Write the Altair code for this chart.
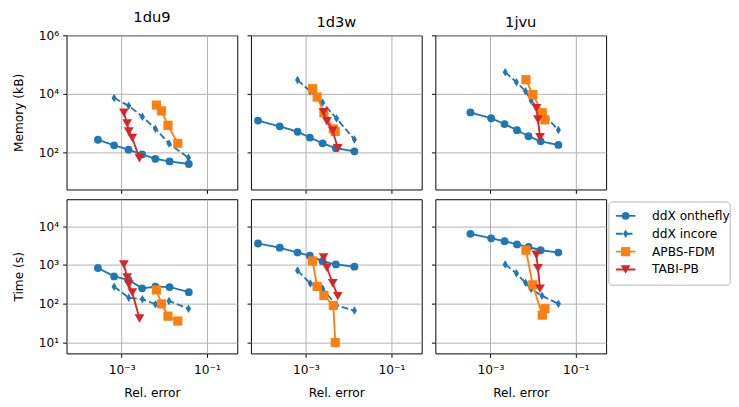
import altair as alt
import pandas as pd

proteins = ["1du9", "1d3w", "1jvu"]
methods = ["ddX onthefly", "ddX incore", "APBS-FDM", "TABI-PB"]

# ---- 1du9 ----
du9_onthefly_err = [2.79e-4, 6.68e-4, 1.45e-3, 3.02e-3, 6.17e-3, 1.33e-2, 3.75e-2]
du9_onthefly_mem = [269, 174, 123, 85, 60, 49, 40]
du9_onthefly_time = [841, 511, 414, 251, 277, 271, 200]
du9_incore_err = [6.68e-4, 1.47e-3, 3.07e-3, 6.17e-3, 1.29e-2, 3.69e-2]
du9_incore_mem = [7200, 3890, 1660, 646, 200, 65]
du9_incore_time = [277, 144, 131, 98, 119, 75]
du9_apbs_err = [6.52e-3, 8.61e-3, 1.22e-2, 2.07e-2]
du9_apbs_mem = [4120, 2620, 838, 203]
du9_apbs_time = [228, 100, 48, 36]
du9_tabi_err = [1.13e-3, 1.35e-3, 1.47e-3, 1.78e-3, 2.62e-3]
du9_tabi_mem = [2240, 977, 513, 309, 63]
du9_tabi_time = [1040, 482, 316, 196, 42]

# ---- 1d3w ----
d3w_onthefly_err = [7.5e-5, 2.42e-4, 6.34e-4, 1.23e-3, 2.44e-3, 5.01e-3, 1.36e-2]
d3w_onthefly_mem = [1220, 776, 505, 320, 203, 139, 108]
d3w_onthefly_time = [3610, 2820, 2110, 1750, 1260, 1040, 908]
d3w_incore_err = [6.34e-4, 1.26e-3, 2.44e-3, 5.19e-3, 1.36e-2]
d3w_incore_mem = [29500, 12200, 5050, 1430, 275]
d3w_incore_time = [721, 335, 247, 91, 67]
d3w_apbs_err = [1.42e-3, 1.82e-3, 2.62e-3, 4.36e-3, 4.84e-3]
d3w_apbs_mem = [15000, 7760, 2310, 631, 518]
d3w_apbs_time = [1280, 282, 165, 91, 10]
d3w_tabi_err = [2.58e-3, 3.08e-3, 4.23e-3, 5.55e-3]
d3w_tabi_mem = [2370, 1160, 545, 139]
d3w_tabi_time = [1580, 857, 341, 158]

# ---- 1jvu ----
jvu_onthefly_err = [3.40e-4, 1.04e-3, 2.14e-3, 4.20e-3, 7.80e-3, 1.50e-2, 3.91e-2]
jvu_onthefly_mem = [2310, 1460, 927, 573, 354, 237, 179]
jvu_onthefly_time = [6430, 4920, 4140, 3410, 2930, 2420, 2110]
jvu_incore_err = [2.22e-3, 4.06e-3, 6.65e-3, 8.99e-3, 1.61e-2, 3.91e-2]
jvu_incore_mem = [54500, 25100, 12300, 5890, 2340, 575]
jvu_incore_time = [1040, 619, 348, 242, 161, 100]
jvu_apbs_err = [6.78e-3, 9.82e-3, 1.64e-2, 1.89e-2]
jvu_apbs_mem = [30500, 9500, 2250, 1290]
jvu_apbs_time = [2420, 310, 51, 75]
jvu_tabi_err = [1.19e-2, 1.30e-2, 1.45e-2]
jvu_tabi_mem = [3200, 1320, 328]
jvu_tabi_time = [1850, 826, 247]

series = {
    ("1du9", "ddX onthefly"): (du9_onthefly_err, du9_onthefly_mem, du9_onthefly_time),
    ("1du9", "ddX incore"): (du9_incore_err, du9_incore_mem, du9_incore_time),
    ("1du9", "APBS-FDM"): (du9_apbs_err, du9_apbs_mem, du9_apbs_time),
    ("1du9", "TABI-PB"): (du9_tabi_err, du9_tabi_mem, du9_tabi_time),
    ("1d3w", "ddX onthefly"): (d3w_onthefly_err, d3w_onthefly_mem, d3w_onthefly_time),
    ("1d3w", "ddX incore"): (d3w_incore_err, d3w_incore_mem, d3w_incore_time),
    ("1d3w", "APBS-FDM"): (d3w_apbs_err, d3w_apbs_mem, d3w_apbs_time),
    ("1d3w", "TABI-PB"): (d3w_tabi_err, d3w_tabi_mem, d3w_tabi_time),
    ("1jvu", "ddX onthefly"): (jvu_onthefly_err, jvu_onthefly_mem, jvu_onthefly_time),
    ("1jvu", "ddX incore"): (jvu_incore_err, jvu_incore_mem, jvu_incore_time),
    ("1jvu", "APBS-FDM"): (jvu_apbs_err, jvu_apbs_mem, jvu_apbs_time),
    ("1jvu", "TABI-PB"): (jvu_tabi_err, jvu_tabi_mem, jvu_tabi_time),
}

rows = []
for (prot, meth), (errs, mems, times) in series.items():
    for i, (e, m, t) in enumerate(zip(errs, mems, times)):
        rows.append({"protein": prot, "method": meth, "idx": i, "err": e, "mem": m, "time": t})
df = pd.DataFrame(rows)

# ---- styles ----
colors = ["#1f77b4", "#1f77b4", "#ff7f0e", "#d62728"]
shapes = ["circle", "M0,-1L0.6,0L0,1L-0.6,0Z", "square", "triangle-down"]
sizes = [64, 100, 50, 62]
dashes = [[1, 0], [7, 3], [1, 0], [1, 0]]

color_scale = alt.Scale(domain=methods, range=colors)
shape_scale = alt.Scale(domain=methods, range=shapes)
size_scale = alt.Scale(domain=methods, range=sizes)
dash_scale = alt.Scale(domain=methods, range=dashes)

FONT = "DejaVu Sans"
X_DOMAIN = [10 ** -4.29, 10 ** -0.29]
MEM_DOMAIN = [10 ** 0.73, 1e6]
TIME_DOMAIN = [10 ** 0.72, 10 ** 4.7]

x_label_expr = "datum.value < 0.005 ? '10⁻³' : '10⁻¹'"
y_label_expr = ("datum.value < 50 ? '10¹' : datum.value < 500 ? '10²' : "
                "datum.value < 5000 ? '10³' : datum.value < 50000 ? '10⁴' : '10⁶'")

W, H = 175, 158


def panel(prot, metric, row, col):
    sub = df[df.protein == prot]
    x = alt.X(
        "err:Q",
        scale=alt.Scale(type="log", domain=X_DOMAIN, nice=False),
        axis=alt.Axis(values=[1e-3, 1e-1], labelExpr=x_label_expr, labels=(row == 1),
                      title="Rel. error" if row == 1 else None,
                      labelPadding=7, titlePadding=11),
    )
    if metric == "mem":
        yscale = alt.Scale(type="log", domain=MEM_DOMAIN, nice=False)
        yvals = [1e2, 1e4, 1e6]
        ytitle = "Memory (kB)"
    else:
        yscale = alt.Scale(type="log", domain=TIME_DOMAIN, nice=False)
        yvals = [1e1, 1e2, 1e3, 1e4]
        ytitle = "Time (s)"
    y = alt.Y(
        metric + ":Q",
        scale=yscale,
        axis=alt.Axis(values=yvals, labelExpr=y_label_expr, labels=(col == 0),
                      title=ytitle if col == 0 else None, titlePadding=13,
                      labelPadding=4),
    )
    layers = []
    for m in methods:
        d = sub[sub.method == m]
        base = alt.Chart(d)
        line = base.mark_line(strokeWidth=1.9).encode(
            x=x, y=y,
            color=alt.Color("method:N", scale=color_scale, legend=None),
            strokeDash=alt.StrokeDash("method:N", scale=dash_scale, legend=None),
            order=alt.Order("idx:Q"),
        )
        pts = base.mark_point(filled=True, opacity=1).encode(
            x=x, y=y,
            color=alt.Color("method:N", scale=color_scale, legend=None),
            shape=alt.Shape("method:N", scale=shape_scale, legend=None),
            size=alt.Size("method:N", scale=size_scale, legend=None),
        )
        layers += [line, pts]
    props = dict(width=W, height=H)
    if row == 0:
        props["title"] = alt.TitleParams(text=prot, fontSize=15, fontWeight="normal",
                                         font=FONT, color="black", offset=5,
                                         frame="group")
    return alt.layer(*layers).properties(**props)


# ---- custom legend (frame drawn as a rect so it can sit close to the panels) ----
leg_df = pd.DataFrame({"method": methods})
ly = alt.Y("method:N", sort=methods,
           scale=alt.Scale(type="point", domain=methods, range=[17, 72], padding=0),
           axis=None)
LX = -11
leg_frame = alt.Chart(leg_df).mark_rect(
    fill="white", stroke="#cccccc", strokeWidth=1, cornerRadius=3
).encode(x=alt.value(LX), x2=alt.value(LX + 124), y=alt.value(3), y2=alt.value(88))
leg_rule = alt.Chart(leg_df).mark_rule(strokeWidth=1.9).encode(
    x=alt.value(LX + 7), x2=alt.value(LX + 27), y=ly,
    color=alt.Color("method:N", scale=color_scale, legend=None),
    strokeDash=alt.StrokeDash("method:N", scale=dash_scale, legend=None),
)
leg_pts = alt.Chart(leg_df).mark_point(filled=True, opacity=1).encode(
    x=alt.value(LX + 17), y=ly,
    color=alt.Color("method:N", scale=color_scale, legend=None),
    shape=alt.Shape("method:N", scale=shape_scale, legend=None),
    size=alt.Size("method:N", scale=size_scale, legend=None),
)
leg_txt = alt.Chart(leg_df).mark_text(align="left", baseline="middle", fontSize=12.5,
                                      font=FONT, color="black").encode(
    x=alt.value(LX + 44), y=ly, text="method:N")
legend = alt.layer(leg_frame, leg_rule, leg_pts, leg_txt).properties(
    width=100, height=90,
    view=alt.ViewBackground(strokeOpacity=0),
)

placeholder = alt.Chart(leg_df).mark_point(opacity=0).encode(
    x=alt.value(0), y=alt.value(0)
).properties(width=1, height=1, view=alt.ViewBackground(strokeOpacity=0))

cells = [panel(p, "mem", 0, i) for i, p in enumerate(proteins)] + [placeholder]
cells += [panel(p, "time", 1, i) for i, p in enumerate(proteins)] + [legend]

chart = alt.concat(*cells, columns=4, spacing={"row": 10, "column": 14},
                   align="each", bounds="flush").properties(
    padding={"left": 4, "top": -4, "right": 0, "bottom": 5}
).configure(font=FONT).configure_view(
    stroke="black", strokeWidth=1
).configure_axis(
    grid=True, gridColor="#b0b0b0", gridWidth=1, domain=False,
    tickColor="black", tickSize=4, tickWidth=1,
    labelFontSize=12.5, labelColor="black", labelFont=FONT,
    titleFontSize=12.5, titleColor="black", titleFontWeight="normal", titleFont=FONT,
)

chart.save("out.html", embed_options={"renderer": "svg", "actions": False})
